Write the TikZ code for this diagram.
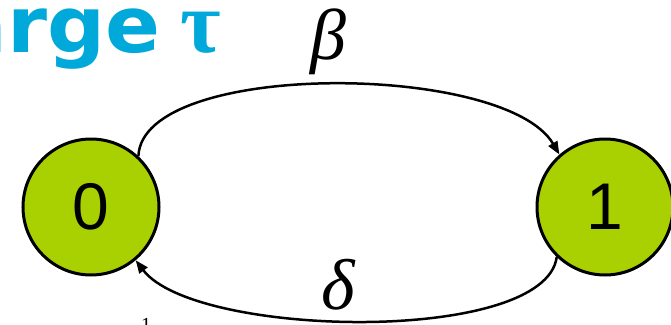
\documentclass[tikz,border=0pt]{standalone}
\usepackage{fontspec}
\setmainfont{Liberation Sans}
\newfontfamily\serifgreek{Liberation Serif}
\newfontfamily\titlefont{DejaVu Sans}[FakeStretch=1.04]
\usetikzlibrary{arrows.meta}
\definecolor{nodegreen}{HTML}{A9D000}
\definecolor{titlecyan}{HTML}{00A9DA}
\begin{document}
\begin{tikzpicture}[x=1pt,y=-1pt,
  state/.style={circle,draw,line width=3pt,fill=nodegreen,minimum size=136pt,inner sep=0pt,font=\fontsize{66}{66}\selectfont},
  edge/.style={line width=2.5pt,-{Triangle[length=13pt,width=10pt]}},
  greeklabel/.style={inner sep=0pt,font=\fontsize{72}{72}\selectfont\serifgreek\itshape},
  titletext/.style={inner sep=0pt,text=titlecyan,font=\fontsize{78}{78}\selectfont\titlefont\bfseries}]
\useasboundingbox (0,0) rectangle (671,324);
\node[state] (s0) at (91,207) {0};
\node[state] (s1) at (605,207) {1};
\draw[edge] (s0.47) .. controls (142,60) and (505,62) .. (s1.131);
\draw[edge] (s1.226) .. controls (545,345) and (195,338) .. (s0.310);
\node[greeklabel] (beta) at (328,42) {β};
\node[greeklabel] (delta) at (338,285) {δ};
\node[titletext,anchor=base east] (title) at (161,52) {arge};
\node[titletext,anchor=base west,font=\fontsize{88}{88}\selectfont\serifgreek\bfseries] (tau) at (180,52) {τ};
\node[inner sep=0pt,anchor=north,font=\fontsize{20}{20}\selectfont\serifgreek] (frag) at (146,318) {1};
\end{tikzpicture}
\end{document}
